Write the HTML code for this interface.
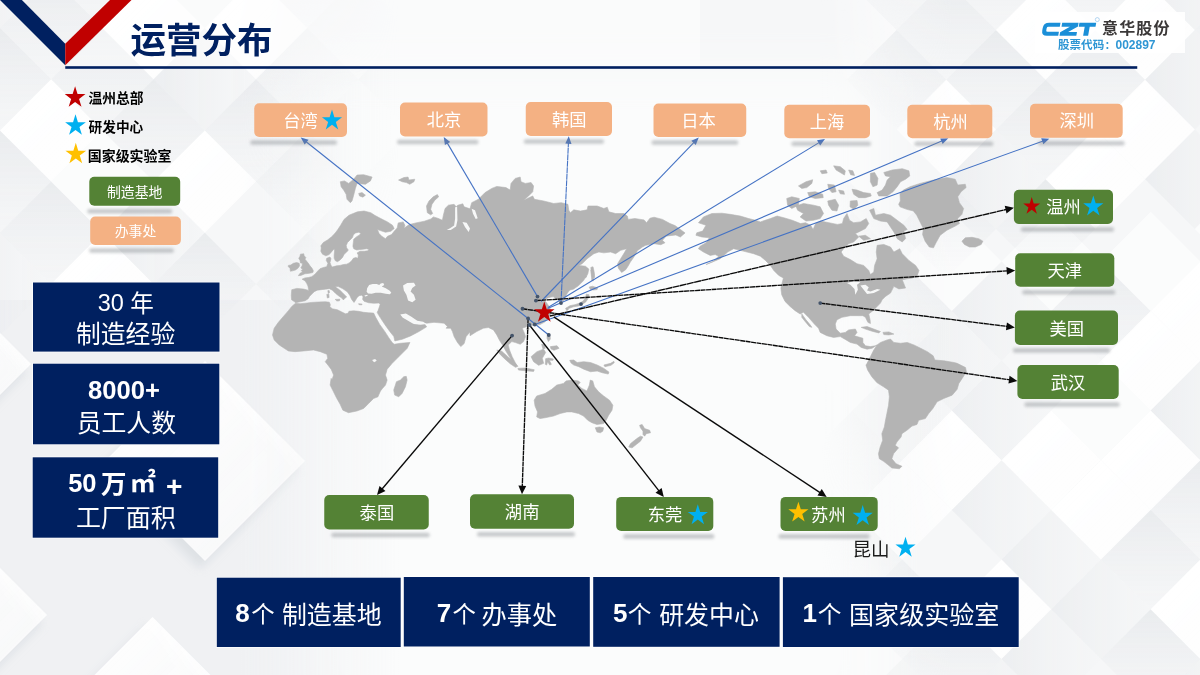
<!DOCTYPE html>
<html lang="zh"><head><meta charset="utf-8"><title>运营分布</title>
<style>
html,body{margin:0;padding:0;background:#fff;}
body{width:1200px;height:675px;overflow:hidden;font-family:"Liberation Sans","Noto Sans CJK SC",sans-serif;}
svg{display:block}
svg text{font-family:"Liberation Sans","Noto Sans CJK SC",sans-serif;}
</style></head><body>
<svg width="1200" height="675" viewBox="0 0 1200 675">
<defs><linearGradient id="gW" x1="0" y1="0" x2="1" y2="1"><stop offset="0" stop-color="#fff" stop-opacity="1"/><stop offset="1" stop-color="#fff" stop-opacity="0.75"/></linearGradient><linearGradient id="gG" x1="0.5" y1="0" x2="0.5" y2="1"><stop offset="0" stop-color="#dde0e4" stop-opacity="0.72"/><stop offset="1" stop-color="#e8eaed" stop-opacity="0.05"/></linearGradient><linearGradient id="gH" x1="0" y1="0" x2="1" y2="0"><stop offset="0" stop-color="#dfe2e6" stop-opacity="0.7"/><stop offset="1" stop-color="#eceef0" stop-opacity="0.05"/></linearGradient><linearGradient id="fadeL" x1="0" y1="0" x2="1" y2="0"><stop offset="0" stop-color="#fff"/><stop offset="0.6" stop-color="#fff"/><stop offset="1" stop-color="#000"/></linearGradient><linearGradient id="fadeR" x1="0" y1="0" x2="1" y2="0"><stop offset="0" stop-color="#000"/><stop offset="0.35" stop-color="#fff"/><stop offset="1" stop-color="#fff"/></linearGradient><mask id="mL"><rect x="0" y="0" width="400" height="675" fill="url(#fadeL)"/></mask><mask id="mR"><rect x="820" y="0" width="380" height="675" fill="url(#fadeR)"/></mask><filter id="sh" x="-20%" y="-80%" width="140%" height="260%"><feGaussianBlur stdDeviation="1.7"/></filter><filter id="b30" x="-20%" y="-20%" width="140%" height="140%"><feGaussianBlur stdDeviation="25"/></filter><filter id="b3" x="-20%" y="-20%" width="140%" height="140%"><feGaussianBlur stdDeviation="5"/></filter></defs>
<rect width="1200" height="675" fill="#f6f7f8"/>
<rect x="300" y="70" width="580" height="650" fill="#fbfcfc" filter="url(#b30)"/>
<g mask="url(#mL)">
<rect x="0" y="300" width="400" height="375" fill="#eef0f2" opacity="0.85"/>
<polygon points="-51.2,-125.6 0,-74.4 -51.2,-23.2 -102.4,-74.4" fill="url(#gG)" opacity="0.7"/>
<polygon points="-51.2,-23.2 0,28 -51.2,79.2 -102.4,28" fill="url(#gG)" opacity="0.7"/>
<polygon points="-51.2,79.2 0,130.4 -51.2,181.6 -102.4,130.4" fill="url(#gH)" opacity="0.6"/>
<polygon points="-51.2,181.6 0,232.8 -51.2,284 -102.4,232.8" fill="url(#gG)" opacity="0.7"/>
<polygon points="0,-74.4 51.2,-23.2 0,28 -51.2,-23.2" fill="url(#gH)" opacity="0.6"/>
<polygon points="0,28 51.2,79.2 0,130.4 -51.2,79.2" fill="url(#gG)" opacity="0.7"/>
<polygon points="0,130.4 51.2,181.6 0,232.8 -51.2,181.6" fill="url(#gG)" opacity="0.7"/>
<polygon points="0,232.8 51.2,284 0,335.2 -51.2,284" fill="url(#gH)" opacity="0.6"/>
<polygon points="51.2,-125.6 102.4,-74.4 51.2,-23.2 0,-74.4" fill="url(#gG)" opacity="0.7"/>
<polygon points="51.2,-23.2 102.4,28 51.2,79.2 0,28" fill="url(#gG)" opacity="0.7"/>
<polygon points="51.2,79.2 102.4,130.4 51.2,181.6 0,130.4" fill="url(#gW)" opacity="1"/>
<polygon points="51.2,181.6 102.4,232.8 51.2,284 0,232.8" fill="url(#gG)" opacity="0.7"/>
<polygon points="102.4,-74.4 153.6,-23.2 102.4,28 51.2,-23.2" fill="url(#gG)" opacity="0.7"/>
<polygon points="102.4,28 153.6,79.2 102.4,130.4 51.2,79.2" fill="url(#gG)" opacity="0.7"/>
<polygon points="102.4,130.4 153.6,181.6 102.4,232.8 51.2,181.6" fill="#ffffff" opacity="0.6"/>
<polygon points="102.4,232.8 153.6,284 102.4,335.2 51.2,284" fill="url(#gW)" opacity="1"/>
<polygon points="153.6,-125.6 204.8,-74.4 153.6,-23.2 102.4,-74.4" fill="url(#gG)" opacity="0.7"/>
<polygon points="153.6,-23.2 204.8,28 153.6,79.2 102.4,28" fill="url(#gW)" opacity="1"/>
<polygon points="153.6,79.2 204.8,130.4 153.6,181.6 102.4,130.4" fill="url(#gG)" opacity="0.7"/>
<polygon points="153.6,181.6 204.8,232.8 153.6,284 102.4,232.8" fill="url(#gH)" opacity="0.6"/>
<polygon points="204.8,28 256,79.2 204.8,130.4 153.6,79.2" fill="url(#gH)" opacity="0.6"/>
<polygon points="204.8,130.4 256,181.6 204.8,232.8 153.6,181.6" fill="url(#gW)" opacity="1"/>
<polygon points="204.8,232.8 256,284 204.8,335.2 153.6,284" fill="url(#gG)" opacity="0.7"/>
<polygon points="256,-23.2 307.2,28 256,79.2 204.8,28" fill="url(#gW)" opacity="1"/>
<polygon points="256,79.2 307.2,130.4 256,181.6 204.8,130.4" fill="url(#gG)" opacity="0.7"/>
<polygon points="307.2,-74.4 358.4,-23.2 307.2,28 256,-23.2" fill="url(#gG)" opacity="0.7"/>
<polygon points="307.2,28 358.4,79.2 307.2,130.4 256,79.2" fill="url(#gG)" opacity="0.7"/>
<polygon points="307.2,130.4 358.4,181.6 307.2,232.8 256,181.6" fill="url(#gG)" opacity="0.7"/>
<polygon points="307.2,232.8 358.4,284 307.2,335.2 256,284" fill="url(#gG)" opacity="0.7"/>
<polygon points="358.4,-125.6 409.6,-74.4 358.4,-23.2 307.2,-74.4" fill="#ffffff" opacity="0.6"/>
<polygon points="358.4,-23.2 409.6,28 358.4,79.2 307.2,28" fill="url(#gG)" opacity="0.7"/>
<polygon points="358.4,79.2 409.6,130.4 358.4,181.6 307.2,130.4" fill="url(#gH)" opacity="0.6"/>
<polygon points="358.4,181.6 409.6,232.8 358.4,284 307.2,232.8" fill="url(#gH)" opacity="0.6"/>
<polygon points="409.6,-74.4 460.8,-23.2 409.6,28 358.4,-23.2" fill="url(#gG)" opacity="0.7"/>
<polygon points="409.6,28 460.8,79.2 409.6,130.4 358.4,79.2" fill="url(#gH)" opacity="0.6"/>
<polygon points="409.6,130.4 460.8,181.6 409.6,232.8 358.4,181.6" fill="url(#gG)" opacity="0.7"/>
<polygon points="409.6,232.8 460.8,284 409.6,335.2 358.4,284" fill="url(#gG)" opacity="0.7"/>
<polygon points="460.8,-125.6 512,-74.4 460.8,-23.2 409.6,-74.4" fill="url(#gG)" opacity="0.7"/>
<polygon points="460.8,-23.2 512,28 460.8,79.2 409.6,28" fill="url(#gH)" opacity="0.6"/>
<polygon points="460.8,79.2 512,130.4 460.8,181.6 409.6,130.4" fill="url(#gG)" opacity="0.7"/>
<polygon points="460.8,181.6 512,232.8 460.8,284 409.6,232.8" fill="url(#gG)" opacity="0.7"/>
<polygon points="200,369 300,469 200,569 100,469" fill="#cfd4d9" opacity="0.55" filter="url(#b3)"/>
<polygon points="147.5,625 247.5,725 147.5,825 47.5,725" fill="#cfd4d9" opacity="0.55" filter="url(#b3)"/>
<polygon points="-58,523 42,623 -58,723 -158,623" fill="#cfd4d9" opacity="0.55" filter="url(#b3)"/>
<polygon points="-74,272 26,372 -74,472 -174,372" fill="#cfd4d9" opacity="0.55" filter="url(#b3)"/>
<polygon points="-69,264 31,364 -69,464 -169,364" fill="url(#gW)" opacity="1"/>
<polygon points="205,361 305,461 205,561 105,461" fill="url(#gW)" opacity="1"/>
<polygon points="152.5,617 252.5,717 152.5,817 52.5,717" fill="url(#gW)" opacity="1"/>
<polygon points="-53,515 47,615 -53,715 -153,615" fill="url(#gW)" opacity="1"/>
</g>
<g mask="url(#mR)">
<polygon points="753.1,211.7 802.8,261.4 753.1,311.1 703.4,261.4" fill="url(#gH)" opacity="0.6"/>
<polygon points="753.1,311.1 802.8,360.8 753.1,410.5 703.4,360.8" fill="url(#gH)" opacity="0.6"/>
<polygon points="753.1,410.5 802.8,460.2 753.1,509.9 703.4,460.2" fill="url(#gG)" opacity="0.7"/>
<polygon points="753.1,509.9 802.8,559.6 753.1,609.3 703.4,559.6" fill="#ffffff" opacity="0.6"/>
<polygon points="753.1,609.3 802.8,659 753.1,708.7 703.4,659" fill="url(#gH)" opacity="0.6"/>
<polygon points="802.8,261.4 852.5,311.1 802.8,360.8 753.1,311.1" fill="url(#gG)" opacity="0.7"/>
<polygon points="802.8,360.8 852.5,410.5 802.8,460.2 753.1,410.5" fill="url(#gH)" opacity="0.6"/>
<polygon points="802.8,460.2 852.5,509.9 802.8,559.6 753.1,509.9" fill="url(#gH)" opacity="0.6"/>
<polygon points="802.8,659 852.5,708.7 802.8,758.4 753.1,708.7" fill="#ffffff" opacity="0.6"/>
<polygon points="852.5,211.7 902.2,261.4 852.5,311.1 802.8,261.4" fill="url(#gG)" opacity="0.7"/>
<polygon points="852.5,410.5 902.2,460.2 852.5,509.9 802.8,460.2" fill="url(#gG)" opacity="0.7"/>
<polygon points="852.5,509.9 902.2,559.6 852.5,609.3 802.8,559.6" fill="url(#gG)" opacity="0.7"/>
<polygon points="852.5,609.3 902.2,659 852.5,708.7 802.8,659" fill="#ffffff" opacity="0.6"/>
<polygon points="902.2,261.4 951.9,311.1 902.2,360.8 852.5,311.1" fill="url(#gG)" opacity="0.7"/>
<polygon points="902.2,360.8 951.9,410.5 902.2,460.2 852.5,410.5" fill="url(#gH)" opacity="0.6"/>
<polygon points="902.2,460.2 951.9,509.9 902.2,559.6 852.5,509.9" fill="url(#gW)" opacity="1"/>
<polygon points="902.2,559.6 951.9,609.3 902.2,659 852.5,609.3" fill="url(#gG)" opacity="0.7"/>
<polygon points="902.2,659 951.9,708.7 902.2,758.4 852.5,708.7" fill="url(#gH)" opacity="0.6"/>
<polygon points="951.9,211.7 1001.6,261.4 951.9,311.1 902.2,261.4" fill="#ffffff" opacity="0.6"/>
<polygon points="951.9,311.1 1001.6,360.8 951.9,410.5 902.2,360.8" fill="url(#gH)" opacity="0.6"/>
<polygon points="951.9,410.5 1001.6,460.2 951.9,509.9 902.2,460.2" fill="url(#gW)" opacity="1"/>
<polygon points="951.9,609.3 1001.6,659 951.9,708.7 902.2,659" fill="url(#gG)" opacity="0.7"/>
<polygon points="1001.6,261.4 1051.3,311.1 1001.6,360.8 951.9,311.1" fill="url(#gH)" opacity="0.6"/>
<polygon points="1001.6,360.8 1051.3,410.5 1001.6,460.2 951.9,410.5" fill="url(#gH)" opacity="0.6"/>
<polygon points="1001.6,460.2 1051.3,509.9 1001.6,559.6 951.9,509.9" fill="url(#gH)" opacity="0.6"/>
<polygon points="1001.6,559.6 1051.3,609.3 1001.6,659 951.9,609.3" fill="url(#gW)" opacity="1"/>
<polygon points="1001.6,659 1051.3,708.7 1001.6,758.4 951.9,708.7" fill="url(#gH)" opacity="0.6"/>
<polygon points="1051.3,211.7 1101,261.4 1051.3,311.1 1001.6,261.4" fill="#ffffff" opacity="0.6"/>
<polygon points="1051.3,410.5 1101,460.2 1051.3,509.9 1001.6,460.2" fill="url(#gW)" opacity="1"/>
<polygon points="1051.3,509.9 1101,559.6 1051.3,609.3 1001.6,559.6" fill="url(#gH)" opacity="0.6"/>
<polygon points="1051.3,609.3 1101,659 1051.3,708.7 1001.6,659" fill="url(#gH)" opacity="0.6"/>
<polygon points="1101,261.4 1150.7,311.1 1101,360.8 1051.3,311.1" fill="url(#gG)" opacity="0.7"/>
<polygon points="1101,360.8 1150.7,410.5 1101,460.2 1051.3,410.5" fill="#ffffff" opacity="0.6"/>
<polygon points="1101,460.2 1150.7,509.9 1101,559.6 1051.3,509.9" fill="url(#gW)" opacity="1"/>
<polygon points="1101,559.6 1150.7,609.3 1101,659 1051.3,609.3" fill="url(#gH)" opacity="0.6"/>
<polygon points="1150.7,211.7 1200.4,261.4 1150.7,311.1 1101,261.4" fill="#ffffff" opacity="0.6"/>
<polygon points="1150.7,311.1 1200.4,360.8 1150.7,410.5 1101,360.8" fill="url(#gW)" opacity="1"/>
<polygon points="1150.7,410.5 1200.4,460.2 1150.7,509.9 1101,460.2" fill="url(#gW)" opacity="1"/>
<polygon points="1150.7,509.9 1200.4,559.6 1150.7,609.3 1101,559.6" fill="url(#gG)" opacity="0.7"/>
<polygon points="1150.7,609.3 1200.4,659 1150.7,708.7 1101,659" fill="url(#gG)" opacity="0.7"/>
<polygon points="1200.4,261.4 1250.1,311.1 1200.4,360.8 1150.7,311.1" fill="url(#gW)" opacity="1"/>
<polygon points="1200.4,360.8 1250.1,410.5 1200.4,460.2 1150.7,410.5" fill="url(#gH)" opacity="0.6"/>
<polygon points="1200.4,460.2 1250.1,509.9 1200.4,559.6 1150.7,509.9" fill="url(#gG)" opacity="0.7"/>
<polygon points="1200.4,559.6 1250.1,609.3 1200.4,659 1150.7,609.3" fill="url(#gW)" opacity="1"/>
<polygon points="1200.4,659 1250.1,708.7 1200.4,758.4 1150.7,708.7" fill="url(#gH)" opacity="0.6"/>
<polygon points="1250.1,211.7 1299.8,261.4 1250.1,311.1 1200.4,261.4" fill="url(#gG)" opacity="0.7"/>
<polygon points="1250.1,311.1 1299.8,360.8 1250.1,410.5 1200.4,360.8" fill="url(#gG)" opacity="0.7"/>
<polygon points="1250.1,410.5 1299.8,460.2 1250.1,509.9 1200.4,460.2" fill="url(#gG)" opacity="0.7"/>
<polygon points="1250.1,509.9 1299.8,559.6 1250.1,609.3 1200.4,559.6" fill="#ffffff" opacity="0.6"/>
<polygon points="1250.1,609.3 1299.8,659 1250.1,708.7 1200.4,659" fill="url(#gG)" opacity="0.7"/>
<polygon points="747.5,-119 797.2,-69.3 747.5,-19.6 697.8,-69.3" fill="url(#gG)" opacity="0.7"/>
<polygon points="747.5,-19.6 797.2,30.1 747.5,79.8 697.8,30.1" fill="url(#gG)" opacity="0.7"/>
<polygon points="747.5,179.2 797.2,228.9 747.5,278.6 697.8,228.9" fill="url(#gG)" opacity="0.7"/>
<polygon points="797.2,-69.3 846.9,-19.6 797.2,30.1 747.5,-19.6" fill="url(#gG)" opacity="0.7"/>
<polygon points="797.2,30.1 846.9,79.8 797.2,129.5 747.5,79.8" fill="url(#gH)" opacity="0.6"/>
<polygon points="846.9,-119 896.6,-69.3 846.9,-19.6 797.2,-69.3" fill="#ffffff" opacity="0.6"/>
<polygon points="846.9,-19.6 896.6,30.1 846.9,79.8 797.2,30.1" fill="url(#gW)" opacity="1"/>
<polygon points="846.9,179.2 896.6,228.9 846.9,278.6 797.2,228.9" fill="url(#gG)" opacity="0.7"/>
<polygon points="896.6,-69.3 946.3,-19.6 896.6,30.1 846.9,-19.6" fill="url(#gG)" opacity="0.7"/>
<polygon points="896.6,30.1 946.3,79.8 896.6,129.5 846.9,79.8" fill="url(#gG)" opacity="0.7"/>
<polygon points="946.3,-19.6 996,30.1 946.3,79.8 896.6,30.1" fill="url(#gG)" opacity="0.7"/>
<polygon points="946.3,79.8 996,129.5 946.3,179.2 896.6,129.5" fill="url(#gW)" opacity="1"/>
<polygon points="946.3,179.2 996,228.9 946.3,278.6 896.6,228.9" fill="url(#gG)" opacity="0.7"/>
<polygon points="996,-69.3 1045.7,-19.6 996,30.1 946.3,-19.6" fill="url(#gG)" opacity="0.7"/>
<polygon points="996,30.1 1045.7,79.8 996,129.5 946.3,79.8" fill="url(#gG)" opacity="0.7"/>
<polygon points="996,129.5 1045.7,179.2 996,228.9 946.3,179.2" fill="url(#gH)" opacity="0.6"/>
<polygon points="1045.7,-119 1095.4,-69.3 1045.7,-19.6 996,-69.3" fill="url(#gH)" opacity="0.6"/>
<polygon points="1045.7,-19.6 1095.4,30.1 1045.7,79.8 996,30.1" fill="url(#gW)" opacity="1"/>
<polygon points="1045.7,79.8 1095.4,129.5 1045.7,179.2 996,129.5" fill="url(#gG)" opacity="0.7"/>
<polygon points="1045.7,179.2 1095.4,228.9 1045.7,278.6 996,228.9" fill="url(#gG)" opacity="0.7"/>
<polygon points="1095.4,-69.3 1145.1,-19.6 1095.4,30.1 1045.7,-19.6" fill="url(#gG)" opacity="0.7"/>
<polygon points="1095.4,30.1 1145.1,79.8 1095.4,129.5 1045.7,79.8" fill="url(#gG)" opacity="0.7"/>
<polygon points="1095.4,129.5 1145.1,179.2 1095.4,228.9 1045.7,179.2" fill="url(#gW)" opacity="1"/>
<polygon points="1145.1,-119 1194.8,-69.3 1145.1,-19.6 1095.4,-69.3" fill="url(#gH)" opacity="0.6"/>
<polygon points="1145.1,-19.6 1194.8,30.1 1145.1,79.8 1095.4,30.1" fill="url(#gW)" opacity="1"/>
<polygon points="1145.1,79.8 1194.8,129.5 1145.1,179.2 1095.4,129.5" fill="url(#gW)" opacity="1"/>
<polygon points="1194.8,-69.3 1244.5,-19.6 1194.8,30.1 1145.1,-19.6" fill="url(#gH)" opacity="0.6"/>
<polygon points="1194.8,30.1 1244.5,79.8 1194.8,129.5 1145.1,79.8" fill="url(#gH)" opacity="0.6"/>
<polygon points="1194.8,129.5 1244.5,179.2 1194.8,228.9 1145.1,179.2" fill="url(#gH)" opacity="0.6"/>
<polygon points="1244.5,-119 1294.2,-69.3 1244.5,-19.6 1194.8,-69.3" fill="url(#gH)" opacity="0.6"/>
<polygon points="1244.5,-19.6 1294.2,30.1 1244.5,79.8 1194.8,30.1" fill="url(#gG)" opacity="0.7"/>
<polygon points="1244.5,179.2 1294.2,228.9 1244.5,278.6 1194.8,228.9" fill="#ffffff" opacity="0.6"/>
</g>
<polygon points="131.5,0 700,0 700,66 66,66" fill="#ffffff" opacity="0.45"/>
<polygon points="0,0 21.9,0 65.25,43.75 65.25,65.25" fill="#002060"/>
<polygon points="65.25,43.75 110,0 131.5,0 65.25,65.25" fill="#C00000"/>
<rect x="65.25" y="66.2" width="1072" height="2.6" fill="#002060"/>
<text x="130.45" y="53.25" font-size="35.5" font-weight="bold" fill="#002060">运营分布</text>
<g id="map"><path d="M291.76,289.72 L296.78,288.38 L303.47,289.05 L308.83,290.38 L308.83,290.42 L307.92,286 L306.67,283.33 L305,280.83 L302.08,279.17 L305,277.92 L308.33,277.5 L311.67,276.67 L315,274.17 L317.5,271.25 L320,268.75 L323.33,267.5 L326.67,266.67 L327.92,263.33 L326.25,260.42 L326.67,258.33 L330,257.08 L331,258.75 L330,262.5 L330.83,265 L332.08,267.08 L336.67,265.83 L340,265.42 L343.33,264.58 L346.67,264.17 L349.17,262.92 L351.67,260.83 L353.33,258.33 L355.83,257.5 L357.92,258.33 L358.33,255 L357.08,252.92 L360,251.25 L364.17,251.25 L367.5,250.83 L369.17,249.58 L366.67,248.75 L363.33,249.17 L360,249.58 L356.67,250 L353.75,248.75 L352.92,246.25 L353.33,242.5 L353.75,239.17 L356.67,236.67 L359.58,235 L360.83,233.33 L358.75,232.33 L355.42,232.92 L353.33,235 L352.5,237.5 L350,240 L347.5,242.5 L346.25,245.42 L346.67,247.92 L348.33,250 L346.67,252.08 L344.17,254.17 L342.5,257.5 L340,260 L337.5,261.67 L335.42,260.83 L334.17,258.33 L334.17,255 L334.58,250.83 L334.17,248.75 L331.67,251.67 L329.17,254.58 L325.83,255.83 L322.5,254.17 L320.83,251.25 L321.25,247.92 L320.83,245.83 L323.33,242.5 L327.5,240 L331.67,236.67 L335,233.33 L337.5,230 L340.63,225.25 L343.97,219.56 L349,215.21 L357.36,211.86 L364.06,211.03 L370.75,212.7 L375.1,215.54 L380.79,218.56 L387.49,221.9 L392.51,225.25 L394.18,228.6 L390.84,231.28 L385.48,232.28 L380.46,230.61 L377.45,229.6 L379.12,233.62 L381.8,236.3 L385.48,238.64 L387.49,236.3 L391.51,234.62 L394.18,231.28 L397.2,227.93 L398.2,222.91 L403.22,221.9 L404.9,225.25 L403.89,228.26 L409.25,224.58 L415.94,222.91 L424.31,221.23 L431,218.89 L433.35,216.88 L437.7,218.22 L442.38,220.23 L443.39,215.21 L445.06,208.51 L448.41,205.17 L454.1,204.33 L456.11,206.84 L457.78,205.17 L462.8,203.83 L464.14,206.84 L470,208.85 L471.67,202.66 L478.37,199.31 L485.06,192.62 L491.76,188.43 L496.78,186.42 L505.98,187.59 L510.17,190.1 L511,183.41 L515.19,178.39 L520.21,177.05 L521.05,181.74 L525.23,183.41 L531.09,182.57 L533.6,185.92 L532.76,191.78 L528.58,195.96 L523.56,200.15 L532.76,195.96 L534.44,199.31 L543.64,200.98 L553.68,203.49 L561.21,202.66 L567.91,204.33 L568.74,210.19 L570.42,212.7 L573.77,209.85 L580.46,211.03 L587.15,209.85 L587.99,206 L597.2,206 L603.89,208.51 L607.24,207.18 L608.91,211.86 L615.61,213.54 L623.97,213.54 L627.32,216.05 L628.16,219.39 L634.85,218.56 L644.06,219.9 L646.57,222.74 L649.92,218.22 L654.1,217.22 L662.47,219.39 L670,223.58 L675.02,225.59 L680.38,229.44 L685.06,232.95 L680.38,236.97 L675.86,234.96 L670,235.63 L666.15,236.13 L662.47,240.31 L664.98,242.82 L660.79,244.67 L654.1,243.66 L645.73,245.33 L642.38,247.01 L637.36,250.69 L635.69,254.04 L633.18,258.05 L630.33,262.07 L628.33,265.75 L625.65,269.77 L621.63,272.45 L618.28,268.1 L617.62,263.74 L620.63,258.72 L624.31,252.87 L626.65,248.68 L620.63,250.36 L615.61,253.7 L610.59,252.03 L603.89,252.87 L598.87,252.03 L593.85,253.7 L587.15,258.72 L582.13,263.74 L578.79,265.42 L585.48,266.26 L588.83,269.1 L587.82,273.79 L585.48,277.97 L586.67,275.83 L583.33,280.83 L578.33,285.83 L573.33,289.17 L570,290 L568.33,291.83 L566.67,294.33 L565,297.67 L563.33,301 L561,303.17 L559.17,302.08 L557.67,299.33 L555,298.33 L553.75,296.83 L552.08,296.83 L548.33,297.67 L545,299.17 L542.5,298.75 L540,299.17 L537.92,301 L541.67,301.25 L545,301 L546.67,302.92 L549.17,306.67 L551.25,310.83 L550.42,315 L547.92,319.17 L544.58,322.08 L540,324.58 L534.6,325.2 L528.91,325.87 L526.23,326.87 L522.22,328.21 L523.89,331.89 L525.56,336.58 L523.56,341.6 L520.21,344.28 L515.52,342.6 L511.84,341.6 L508.16,344.95 L509.5,349.97 L512.18,356.66 L515.19,362.52 L517.2,365.87 L514.52,365.36 L511.84,360.34 L508.49,355.32 L505.82,350.97 L502.8,345.28 L499.46,340.26 L496.78,334.9 L493.43,329.88 L488.41,327.54 L483.39,328.21 L476.69,331.56 L470,335.74 L470,331.89 L466.15,336.58 L464.14,343.61 L460.79,346.62 L457.45,342.44 L454.1,336.58 L452.43,331.56 L450.75,328.21 L446.07,328.21 L447.41,326.54 L444.06,323.19 L434.02,322.35 L426.65,323.19 L420.63,322.35 L415.61,321.18 L410.59,317.5 L405.56,314.15 L400.88,314.82 L402.55,317.5 L407.24,319.84 L412.26,323.19 L418.95,324.19 L423.97,323.19 L426.65,326.87 L418.95,331.56 L410.59,335.91 L402.22,339.26 L394.85,340.93 L393.82,336.5 L389.79,331.46 L384.75,324.41 L380.72,318.36 L378.2,314.33 L377.19,312.32 L378.2,310.3 L379.21,307.28 L380.21,304.26 L378.7,303.05 L373.66,303.25 L368.63,302.75 L364.09,301.23 L362.58,299.22 L363.09,296.7 L361.57,295.19 L359.06,295.69 L357.04,297.71 L355.53,300.23 L354.02,302.44 L351.5,299.22 L349.99,295.69 L347.47,291.96 L342.93,288.84 L338.4,286.62 L335.38,286.42 L336.39,287.63 L339.41,289.65 L342.43,292.67 L345.45,295.69 L346.66,297 L344.95,298.21 L343.44,299.92 L341.42,297.71 L338.4,295.69 L335.38,293.17 L332.36,290.15 L329.33,288.64 L325.3,289.14 L321.27,289.65 L317.24,290.15 L314.22,291.66 L312.2,293.68 L309.69,296.2 L308.17,298.72 L305.15,300.73 L300.11,301.74 L295.58,302.75 L294.57,301.74 L291.55,299.72 L291.25,295.19Z M295.58,303.25 L300.11,303.75 L305.15,303.25 L311.2,302.44 L318.25,302.04 L325.3,301.74 L329.33,302.24 L330.34,304.76 L329.84,306.78 L332.36,308.79 L337.39,309.8 L341.42,311.81 L345.45,313.83 L347.97,313.32 L348.98,311.31 L353.51,310.81 L358.55,311.31 L363.59,312.32 L368.63,312.82 L373.66,313.12 L375.68,317.36 L379.71,324.41 L384.75,331.46 L388.78,337.71 L392.18,342.6 L394.18,344.28 L400.54,343.27 L409.92,342.44 L407.24,348.29 L402.22,353.31 L397.2,358.33 L392.18,363.36 L387.15,369.21 L385.48,375.07 L387.15,380.09 L385.48,385.11 L382.47,388.46 L380.5,390.92 L378.66,395.1 L377.99,396.78 L373.64,398.45 L368.62,403.47 L363.6,408.49 L356.9,411 L348.54,412.68 L342.85,410.17 L340.17,404.31 L336.82,398.45 L333.47,391.76 L330.13,385.06 L331.13,378.37 L331.92,380.09 L333.6,375.07 L331.26,369.38 L327.91,365.03 L325.23,361.68 L327.74,358.33 L326.9,354.32 L320.21,351.64 L313.51,349.97 L303.47,350.97 L295.1,351.64 L288.41,350.97 L284.23,348.29 L279.21,344.95 L274.18,339.92 L272.51,334.9 L274.18,328.21 L278.37,322.35 L283.39,316.49 L288.41,310.64 L291.76,306.45Z M406.28,376.36 L407.11,380.04 L405.44,386.74 L402.09,393.43 L398.74,396.78 L394.73,395.1 L393.72,390.08 L395.4,385.06 L396.4,381.72 L400.42,380.04 L403.77,376.69Z M300.42,254.17 L303.75,253.75 L304.17,255.83 L305.83,257.5 L305,259.17 L306.67,261.25 L308.33,263.33 L310,265.83 L312.08,268.33 L313.33,270.83 L312.92,272.5 L309.17,273.33 L305,273.75 L300.83,275.42 L298.33,275.67 L300,273.33 L302.5,272.08 L301.25,270.42 L302.92,269.17 L300.83,267.92 L302.08,265.83 L302.5,263.33 L300.42,262.92 L300,260.42 L298.75,258.33 L300,256.25Z M288.33,265.42 L290.83,265 L293.33,263.33 L296.67,262.5 L299.17,263.33 L299.58,265.83 L297.92,268.33 L295.42,270 L292.5,270.83 L290.42,271.25 L290,268.33 L288.33,266.67Z M340.29,181.74 L344.48,180.9 L348.66,183.41 L353.68,179.23 L357.03,175.04 L363.72,174.71 L372.09,177.05 L370.42,180.9 L365.4,184.25 L357.03,183.41 L355.36,188.43 L353.68,195.13 L352.01,200.98 L350.33,202.66 L346.99,199.31 L346.15,194.29 L343.64,190.1 L341.13,186.76Z M358.7,193.45 L362.05,192.62 L365.4,195.13 L362.89,197.13 L359.54,195.96Z M398.54,180.06 L403.89,177.55 L408.08,177.05 L408.91,180.06 L414.77,179.23 L413.93,181.74 L409.75,184.25 L406.4,182.57 L402.22,181.74Z M426.49,206 L429,200.98 L433.18,196.8 L437.36,194.62 L438.7,196.8 L434.85,200.15 L432.01,204.33 L430.67,209.35 L432.68,213.54 L430.67,214.87 L427.32,212.7Z M327.82,290.65 L329.13,290.45 L329.53,292.67 L328.32,293.38Z M326.81,294.38 L328.73,293.98 L329.13,297.41 L327.32,298.01Z M335.18,299.42 L339.91,299.22 L339.41,300.83 L336.89,301.03Z M358.55,303.75 L362.08,304.06 L361.78,304.86 L359.06,304.66Z M590.84,267.43 L593.01,266.76 L594.18,272.11 L594.69,277.47 L592.18,277.47 L591.34,272.95Z M590.83,270 L593.17,270 L594,275 L593.33,280.83 L591.83,280.67 L591.33,275Z M589.17,287.08 L592.5,286.25 L597.5,287.92 L597.08,289.58 L593.33,290 L590.42,289.58Z M586.25,294.17 L589.17,294.83 L588.17,298.33 L586,301.67 L582.67,304.17 L578.33,306 L573.33,306.83 L570,308 L566.83,309.33 L565.83,308.17 L570,305.67 L575,304.67 L580,303 L583.33,300.83 L585.67,297.67Z M565.67,308.5 L567.67,308 L568.33,309.83 L566.67,310.5Z M547.32,333.23 L550,334.07 L550.33,339.09 L548.33,341.6 L546.99,338.25Z M526.57,328.21 L528.91,327.87 L528.91,329.88 L526.9,330.22Z M550.33,346.62 L557.03,345.78 L559.04,348.29 L554.02,350.3 L551,348.96Z M541.63,344.28 L544.64,344.61 L545.31,348.29 L542.97,348.96Z M496.78,349.97 L501.8,351.31 L507.82,356.66 L513.85,361.68 L517.87,366.37 L515.52,367.37 L510.17,363.69 L504.48,358.67 L499.46,353.65Z M517.87,368.38 L525.23,368.04 L534.27,369.72 L533.6,371.39 L525.23,370.72 L518.54,370.05Z M531.09,356.66 L536.95,351.64 L543.64,349.13 L545.65,352.48 L542.3,358.33 L543.64,363.36 L538.62,365.36 L533.6,361.68Z M545.65,358.67 L548.66,358 L553.35,359 L553.01,360.34 L549.33,360.34 L551.34,364.36 L549.67,365.03 L547.66,361.68 L546.65,365.03 L545.31,364.36Z M569.75,360.34 L573.77,360.01 L577.11,362.52 L583.81,361.68 L590.5,362.52 L597.2,365.03 L603.89,368.38 L608.91,372.06 L608.24,374.07 L602.22,372.73 L597.2,371.05 L590.5,371.72 L583.81,369.21 L578.79,366.7 L573.77,365.03 L571.09,363.02Z M603.89,365.03 L610.59,363.36 L613.93,361.35 L614.27,362.69 L610.92,365.36 L604.9,366.7Z M534.18,400.17 L536.69,395.98 L545.06,393.47 L551.76,389.29 L556.78,385.1 L563.47,383.43 L565.98,380.92 L571.84,380.08 L578.54,380.92 L580.21,382.59 L577.7,385.1 L581.88,388.45 L586.9,390.96 L589.41,385.1 L590.25,380.08 L592.76,380.92 L594.44,386.78 L598.62,391.8 L603.64,395.98 L609.5,400.17 L612.85,405.19 L612.01,410.21 L608.66,415.23 L606.15,420.25 L603.64,423.6 L596.95,424.44 L591.92,422.76 L587.74,420.25 L583.56,416.07 L578.54,413.56 L571.84,411.88 L566.82,411.88 L560.13,413.56 L553.43,416.07 L545.06,417.74 L540.04,418.58 L536.69,416.9 L537.53,411.88 L535.02,406.03Z M595.27,427.78 L599.46,426.95 L603.64,427.78 L602.8,431.13 L600.29,432.8 L596.95,431.97Z M639.62,425.27 L642.13,424.44 L644.64,428.62 L649.67,430.29 L650.5,432.8 L646.32,433.64 L644.64,436.15 L642.97,434.48 L642.97,431.13 L640.46,427.78Z M640.46,436.15 L642.97,436.99 L640.46,441.17 L636.28,444.52 L632.09,447.87 L628.74,447.03 L630.42,443.68 L634.6,440.33 L637.95,437.82Z M698.45,222.74 L703.47,216.88 L711.84,213.54 L721.88,213.2 L730.25,214.37 L740.29,216.05 L748.66,218.56 L755.36,220.23 L760.38,221.9 L770.42,218.56 L777.11,216.05 L783.81,217.72 L792.18,220.23 L800.54,223.58 L805.56,222.74 L810.59,225.25 L813.1,229.44 L815.61,223.58 L820.63,221.07 L829,222.74 L837.36,224.41 L842.38,223.58 L843.64,218.56 L846.99,213.54 L849.5,220.23 L853.68,222.74 L860.38,221.9 L866.23,218.56 L868.74,223.58 L865.4,228.6 L858.7,231.95 L855.36,233.62 L858.7,236.97 L853.68,241.99 L848.66,243.66 L843.64,248.68 L841.13,252.03 L843.64,256.21 L850.33,259.56 L857.03,263.74 L863.72,265.42 L868.74,270.44 L870.42,274.62 L873.77,272.11 L874.6,265.42 L877.11,258.72 L876.28,252.03 L877.11,245.33 L883.81,244.5 L890.5,247.01 L893.85,252.03 L899.71,248.68 L902.22,253.7 L908.91,260.4 L915.61,265.42 L918.95,270.44 L917.28,275.46 L912.26,277.97 L902.22,279.67 L905.56,288.04 L898.87,288.88 L893.85,286.37 L890.5,293.06 L885.48,296.41 L882.13,299.76 L880.46,303.1 L877.11,306.45 L872.93,310.64 L868.74,313.98 L870.08,319.84 L870.42,323.52 L867.91,322.35 L865.4,317.33 L862.89,315.66 L857.03,315.66 L850.33,315.66 L841.97,317.33 L836.95,319.84 L835.27,324.03 L836.11,329.05 L840.29,333.23 L845.31,332.39 L848.66,329.88 L855.36,329.05 L857.03,332.39 L854.52,335.74 L857.03,336.58 L862.89,338.25 L862.89,342.44 L865.4,345.78 L870.42,346.62 L875.44,345.78 L877.11,344.95 L872.09,348.29 L867.07,349.13 L861.21,347.46 L857.03,344.11 L850.33,342.44 L846.15,339.92 L840.29,336.58 L833.6,337.41 L826.9,335.74 L820.21,332.39 L818.54,328.21 L814.35,324.03 L808.49,317.33 L803.47,312.31 L800.13,313.98 L795.1,310.64 L790.08,306.45 L785.06,301.43 L781.72,294.74 L780.88,288.04 L783.39,278 L778.79,275.46 L773.77,270.44 L770.42,265.42 L765.4,260.4 L760.38,256.21 L753.68,253.7 L746.99,252.03 L740.29,250.36 L733.6,248.68 L727.74,252.03 L720.21,258.72 L710.17,262.91 L705.98,264.58 L713.51,261.23 L718.54,256.21 L715.19,254.54 L710.17,255.38 L703.47,252.03 L698.45,248.68 L700.13,246.17 L705.98,242.82 L709.33,237.8 L701.8,236.97 L695.94,235.29 L696.78,232.78 L702.64,231.11 L705.98,225.25Z M801.8,313.98 L805.98,319.84 L810.17,324.86 L811.84,327.37 L809.33,326.54 L805.15,321.51 L801.8,317.33Z M861.21,327.37 L867.07,326.54 L873.77,329.05 L880.46,331.56 L878.79,332.9 L872.09,331.22 L865.4,329.05Z M882.97,332.39 L888.83,331.89 L893.85,334.07 L888.83,334.9 L883.81,334.57Z M883.81,172.53 L892.18,170.02 L902.22,168.68 L908.91,170.86 L909.75,175.88 L905.56,179.23 L900.54,181.74 L897.2,186.76 L893.01,191.78 L887.15,195.96 L878.79,195.96 L877.11,192.62 L882.13,190.1 L885.48,185.08 L887.15,180.06 L890.5,176.72 L885.48,175.88Z M870.42,173.37 L874.6,172.53 L877.95,178.39 L877.11,185.08 L872.93,186.76 L870.42,181.74Z M852.01,189.27 L857.03,190.1 L863.72,192.62 L870.42,193.45 L871.26,195.96 L865.4,197.64 L858.7,197.64 L853.68,194.29Z M798.45,185.92 L805.98,181.74 L812.68,179.73 L811.84,183.41 L806.82,187.59 L801.8,188.43Z M820.21,170.86 L826.07,170.02 L827.24,173.03 L821.88,173.7Z M833.6,165.84 L840.29,166.67 L845.31,170.86 L844.48,175.04 L840.29,172.53 L836.11,170.02Z M848.66,170.02 L852.85,170.86 L854.52,175.38 L850.67,174.71Z M827.74,184.25 L834.44,185.08 L836.11,191.78 L831.92,192.62 L828.58,188.43Z M838.62,190.1 L843.64,190.94 L844.48,194.29 L840.29,193.79Z M807.66,192.62 L815.19,191.78 L822.72,194.29 L823.22,197.64 L815.19,198.47 L809.33,196.8Z M786.74,198.47 L791.76,196.8 L799.29,198.47 L798.45,205.17 L791.76,208.51 L787.57,205.17Z M795.94,206 L803.47,203.49 L813.51,205.17 L820.21,206.84 L823.56,213.54 L820.21,218.56 L813.51,220.23 L805.98,221.07 L800.13,216.88 L803.47,213.54 L797.62,210.19Z M827.74,200.98 L835.27,199.31 L838.62,205.17 L836.95,211.03 L831.92,210.19 L828.58,205.17Z M850.33,200.98 L857.03,200.48 L857.87,205.17 L853.68,209.35 L850,206.84Z M869.58,210.19 L873.77,208.51 L875.44,215.21 L883.81,213.54 L890.5,215.21 L897.2,220.23 L903.89,225.25 L907.24,229.44 L903.89,231.11 L905.56,238.64 L902.22,241.99 L897.2,238.64 L893.85,231.95 L890.5,226.92 L887.15,221.9 L880.46,221.07 L873.77,218.56Z M858.7,236.13 L865.4,235.29 L870.42,238.64 L863.72,240.31Z M900,193.45 L903.35,190.1 L910.04,186.76 L920.08,183.41 L933.47,180.06 L946.86,177.55 L955.23,179.23 L957.74,185.08 L965.27,184.25 L966.11,187.59 L961.09,191.78 L957.74,196.8 L959.41,202.66 L963.6,208.51 L961.92,214.37 L957.74,218.56 L959.41,223.58 L955.23,226.09 L946.86,230.27 L940.17,235.29 L935.98,242.82 L933.47,247.85 L929.29,247.01 L925.1,241.15 L922.59,234.46 L923.43,228.6 L920.08,221.9 L916.74,215.21 L913.39,211.03 L906.69,209.35 L900,206.84 L898.66,204.33 L900.33,200.98Z M961.92,241.15 L965.27,237.8 L971.97,237.3 L978.66,238.64 L982.85,241.15 L981.17,244.5 L975.31,247.01 L969.46,247.01 L964.44,244.5Z M877.11,344.95 L880.46,342.44 L887.15,339.92 L890.5,339.09 L893.85,342.44 L900.54,343.27 L907.24,342.44 L913.93,344.95 L920.63,348.29 L927.32,351.64 L933.18,355.82 L934.85,360.01 L944.06,360.85 L954.1,362.52 L957.15,363.35 L965.52,367.53 L966.36,371.72 L962.18,378.41 L958.83,383.43 L957.15,389.29 L952.13,395.15 L943.77,398.49 L937.07,401.84 L932.89,408.54 L928.7,413.56 L925.36,418.58 L918.66,420.25 L916.99,424.44 L911.97,426.11 L906.95,430.29 L901.92,433.64 L901.09,436.99 L896.9,442.01 L895.23,445.36 L898.58,447.87 L893.56,453.72 L891.88,458.74 L896.07,463.77 L901.92,466.28 L899.41,468.79 L891.88,467.95 L887.7,464.6 L883.51,461.26 L879.33,458.74 L878.49,453.72 L880.17,447.03 L882.68,440.33 L881.84,433.64 L884.35,426.95 L885.19,421.92 L886.86,413.56 L888.54,405.19 L889.37,396.82 L888.54,390.13 L883.51,386.78 L876.82,382.59 L871.8,376.74 L867.62,370.04 L865.94,365.02 L867.11,363.35 L867.07,363.36 L870.42,356.66 L873.77,349.97Z" fill="#B4B4B4" stroke="#B4B4B4" stroke-width="0.6" stroke-linejoin="round"/>
<path d="M366.61,291.66 L367.12,288.14 L369.13,285.11 L372.66,284.11 L376.69,284.11 L379.21,285.11 L380.72,283.6 L383.24,283.1 L384.24,285.11 L381.73,286.62 L385.76,288.14 L389.79,290.65 L391.3,292.67 L389.79,294.18 L385.76,293.68 L380.72,292.67 L375.68,292.67 L371.65,293.68 L368.12,293.38Z M364.4,295.39 L367.12,294.79 L367.82,295.79 L365.1,296.6Z M403.05,285.53 L407.24,283.02 L413.93,282.69 L415.61,285.53 L412.26,288.04 L410.59,291.39 L413.93,294.74 L415.61,299.76 L412.26,302.27 L408.08,300.59 L406.4,294.74 L403.89,290.55Z M455.1,207.18 L457.11,206.84 L457.45,220.23 L456.11,226.59 L450.75,229.94 L446.74,229.94 L450.42,227.93 L454.1,225.59 L455.1,218.56Z M462.47,221.9 L466.65,222.74 L470,228.6 L468.66,231.95 L464.98,226.92Z M471.67,208.85 L475.02,210.19 L477.7,218.22 L475.69,218.89 L473.01,213.87Z M846.99,283.02 L853.68,281.35 L860.38,282.18 L857.03,284.69 L857.87,289.72 L855.36,294.74 L854.52,288.88 L850.33,284.69Z M860.38,285.53 L865.4,284.69 L868.74,287.21 L867.07,290.55 L870.42,291.39 L877.11,288.88 L880.46,289.72 L873.77,293.06 L867.07,293.9 L863.72,289.72Z M400.21,314.49 L405.9,313.48 L411.42,316.83 L417.28,320.68 L423.14,321.85 L426.49,324.03 L420.63,324.86 L413.93,324.03 L408.08,320.68 L403.05,317.83Z M372.09,360.01 L375.1,359 L376.78,360.68 L374.1,362.35Z" fill="#f7f8f8"/></g>
<line x1="548.75" y1="335" x2="305.83" y2="141.55" stroke="#4472C4" stroke-width="1.1"/>
<polygon points="300.75,137.5 308.55,139.75 304.69,144.6" fill="#4472C4"/>
<line x1="537.5" y1="296.6" x2="447.04" y2="142.6" stroke="#4472C4" stroke-width="1.1"/>
<polygon points="443.75,137 450.22,141.9 444.88,145.04" fill="#4472C4"/>
<line x1="561" y1="303.1" x2="568.45" y2="142.74" stroke="#4472C4" stroke-width="1.1" stroke-dasharray="6 0.5"/>
<polygon points="568.75,136.25 571.5,143.89 565.31,143.6" fill="#4472C4"/>
<line x1="541" y1="301.5" x2="694.24" y2="142.18" stroke="#4472C4" stroke-width="1.1"/>
<polygon points="698.75,137.5 695.78,145.05 691.32,140.76" fill="#4472C4"/>
<line x1="548" y1="307.5" x2="819.45" y2="142.38" stroke="#4472C4" stroke-width="1.1"/>
<polygon points="825,139 820.2,145.55 816.98,140.25" fill="#4472C4"/>
<line x1="547.5" y1="308.5" x2="942.32" y2="140.84" stroke="#4472C4" stroke-width="1.1"/>
<polygon points="948.3,138.3 942.61,144.08 940.18,138.38" fill="#4472C4"/>
<line x1="534.75" y1="324.5" x2="1043.19" y2="140.91" stroke="#4472C4" stroke-width="1.1"/>
<polygon points="1049.3,138.7 1043.3,144.16 1041.19,138.33" fill="#4472C4"/>
<line x1="535.9" y1="300.6" x2="1007.71" y2="270.87" stroke="#0a0a0a" stroke-width="1.35" stroke-dasharray="5 0.5"/>
<polygon points="1015.2,270.4 1006.96,274.83 1006.47,267.04" fill="#0a0a0a"/>
<line x1="522.5" y1="308.75" x2="1009.98" y2="379.82" stroke="#0a0a0a" stroke-width="1.35" stroke-dasharray="5 0.5"/>
<polygon points="1017.4,380.9 1008.43,383.53 1009.55,375.81" fill="#0a0a0a"/>
<line x1="550" y1="316" x2="1006.6" y2="209.41" stroke="#0a0a0a" stroke-width="1.35" stroke-dasharray="7 0.4"/>
<polygon points="1013.9,207.7 1006.51,213.43 1004.74,205.83" fill="#0a0a0a"/>
<line x1="820.25" y1="303.1" x2="1007.46" y2="326.47" stroke="#0a0a0a" stroke-width="1.35" stroke-dasharray="5 0.5"/>
<polygon points="1014.9,327.4 1005.98,330.22 1006.95,322.48" fill="#0a0a0a"/>
<line x1="553.75" y1="316.9" x2="820.44" y2="492.87" stroke="#0a0a0a" stroke-width="1.35"/>
<polygon points="826.7,497 817.46,495.57 821.75,489.06" fill="#0a0a0a"/>
<line x1="529.4" y1="325" x2="659.18" y2="491.09" stroke="#0a0a0a" stroke-width="1.35"/>
<polygon points="663.8,497 655.49,492.7 661.64,487.9" fill="#0a0a0a"/>
<line x1="528.1" y1="318.5" x2="522.26" y2="486.75" stroke="#0a0a0a" stroke-width="1.35" stroke-dasharray="5 0.5"/>
<polygon points="522,494.25 518.4,485.62 526.19,485.89" fill="#0a0a0a"/>
<line x1="512.1" y1="335.6" x2="381.85" y2="489.28" stroke="#0a0a0a" stroke-width="1.35"/>
<polygon points="377,495 379.52,485.99 385.47,491.04" fill="#0a0a0a"/>
<circle cx="537.5" cy="296.6" r="1.9" fill="#44546A"/>
<circle cx="535.9" cy="300.6" r="1.9" fill="#44546A"/>
<circle cx="561" cy="303.1" r="1.9" fill="#44546A"/>
<circle cx="581" cy="304.1" r="1.9" fill="#44546A"/>
<circle cx="522.5" cy="308.75" r="1.9" fill="#44546A"/>
<circle cx="528.1" cy="318.5" r="1.9" fill="#44546A"/>
<circle cx="529.4" cy="325" r="1.9" fill="#44546A"/>
<circle cx="534.75" cy="324.5" r="1.9" fill="#44546A"/>
<circle cx="548.75" cy="335" r="1.9" fill="#44546A"/>
<circle cx="512.1" cy="335.6" r="1.9" fill="#44546A"/>
<circle cx="820.25" cy="303.1" r="1.9" fill="#44546A"/>
<polygon points="544.3,301.47 546.72,309.23 554.57,309.23 548.22,314.03 550.65,321.79 544.3,316.99 537.95,321.79 540.38,314.03 534.03,309.23 541.88,309.23" fill="#C00000"/>
<rect x="250.25" y="140.2" width="86.75" height="4.6" rx="3" fill="#7f8388" opacity="0.42" filter="url(#sh)"/>
<rect x="254.25" y="103.25" width="92.75" height="33.75" rx="5" ry="5" fill="#F4B183"/>
<text x="283.19" y="127" font-size="17.3" fill="#ffffff">台湾</text>
<polygon points="332,109.58 334.38,117.19 342.08,117.19 335.85,121.9 338.23,129.52 332,124.81 325.77,129.52 328.15,121.9 321.92,117.19 329.62,117.19" fill="#00B0F0"/>
<rect x="397" y="139.7" width="81.5" height="4.6" rx="3" fill="#7f8388" opacity="0.42" filter="url(#sh)"/>
<rect x="400" y="102.5" width="87.5" height="34" rx="5" ry="5" fill="#F4B183"/>
<text x="426.69" y="126.33" font-size="17.3" fill="#ffffff">北京</text>
<rect x="523.75" y="139.2" width="80.25" height="4.6" rx="3" fill="#7f8388" opacity="0.42" filter="url(#sh)"/>
<rect x="525.75" y="102" width="86.25" height="34" rx="5" ry="5" fill="#F4B183"/>
<text x="551.97" y="125.75" font-size="17.3" fill="#ffffff">韩国</text>
<rect x="651.5" y="140.2" width="86.75" height="4.6" rx="3" fill="#7f8388" opacity="0.42" filter="url(#sh)"/>
<rect x="653.5" y="103.5" width="92.75" height="33.5" rx="5" ry="5" fill="#F4B183"/>
<text x="681.33" y="127.02" font-size="17.3" fill="#ffffff">日本</text>
<rect x="791.3" y="141.5" width="79.7" height="4.6" rx="3" fill="#7f8388" opacity="0.42" filter="url(#sh)"/>
<rect x="784.3" y="104.7" width="85.7" height="33.6" rx="5" ry="5" fill="#F4B183"/>
<text x="809.73" y="128.35" font-size="17.3" fill="#ffffff">上海</text>
<rect x="914.3" y="141.5" width="79" height="4.6" rx="3" fill="#7f8388" opacity="0.42" filter="url(#sh)"/>
<rect x="907.3" y="104.7" width="85" height="33.6" rx="5" ry="5" fill="#F4B183"/>
<text x="933.14" y="128.29" font-size="17.3" fill="#ffffff">杭州</text>
<rect x="1038" y="140.9" width="86.7" height="4.6" rx="3" fill="#7f8388" opacity="0.42" filter="url(#sh)"/>
<rect x="1030" y="103.7" width="92.7" height="34" rx="5" ry="5" fill="#F4B183"/>
<text x="1059.45" y="127.41" font-size="17.3" fill="#ffffff">深圳</text>
<rect x="1020.9" y="227.1" width="93.1" height="4.6" rx="3" fill="#7f8388" opacity="0.42" filter="url(#sh)"/>
<rect x="1013.9" y="189.7" width="99.1" height="34.2" rx="5" ry="5" fill="#548235"/>
<text x="1046.3" y="213.49" font-size="17.3" fill="#ffffff">温州</text>
<polygon points="1031.7,197.04 1033.7,203.44 1040.16,203.44 1034.93,207.39 1036.93,213.79 1031.7,209.84 1026.47,213.79 1028.47,207.39 1023.24,203.44 1029.7,203.44" fill="#C00000"/>
<polygon points="1093.3,195.58 1095.68,203.19 1103.38,203.19 1097.15,207.9 1099.53,215.52 1093.3,210.81 1087.07,215.52 1089.45,207.9 1083.22,203.19 1090.92,203.19" fill="#00B0F0"/>
<rect x="1022.2" y="289.9" width="93.1" height="4.6" rx="3" fill="#7f8388" opacity="0.42" filter="url(#sh)"/>
<rect x="1015.2" y="253.2" width="99.1" height="33.5" rx="5" ry="5" fill="#548235"/>
<text x="1047.45" y="276.72" font-size="17.3" fill="#ffffff">天津</text>
<rect x="1012.9" y="348.1" width="97.1" height="4.6" rx="3" fill="#7f8388" opacity="0.42" filter="url(#sh)"/>
<rect x="1014.9" y="310.6" width="103.1" height="34.3" rx="5" ry="5" fill="#548235"/>
<text x="1049.53" y="334.55" font-size="17.3" fill="#ffffff">美国</text>
<rect x="1024.4" y="402.2" width="95.3" height="4.6" rx="3" fill="#7f8388" opacity="0.42" filter="url(#sh)"/>
<rect x="1017.4" y="365" width="101.3" height="34" rx="5" ry="5" fill="#548235"/>
<text x="1050.64" y="388.72" font-size="17.3" fill="#ffffff">武汉</text>
<rect x="331.25" y="532.7" width="98.5" height="4.6" rx="3" fill="#7f8388" opacity="0.42" filter="url(#sh)"/>
<rect x="324.25" y="495" width="104.5" height="34.5" rx="5" ry="5" fill="#548235"/>
<text x="359.61" y="519.01" font-size="17.3" fill="#ffffff">泰国</text>
<rect x="477" y="531.95" width="98" height="4.6" rx="3" fill="#7f8388" opacity="0.42" filter="url(#sh)"/>
<rect x="470" y="494.25" width="104" height="34.5" rx="5" ry="5" fill="#548235"/>
<text x="504.86" y="518.27" font-size="17.3" fill="#ffffff">湖南</text>
<rect x="623.2" y="534.1" width="91.1" height="4.6" rx="3" fill="#7f8388" opacity="0.42" filter="url(#sh)"/>
<rect x="616.2" y="496.9" width="97.1" height="34" rx="5" ry="5" fill="#548235"/>
<text x="647.72" y="520.69" font-size="17.3" fill="#ffffff">东莞</text>
<polygon points="697.8,504.28 700.18,511.89 707.88,511.89 701.65,516.6 704.03,524.22 697.8,519.51 691.57,524.22 693.95,516.6 687.72,511.89 695.42,511.89" fill="#00B0F0"/>
<rect x="778.5" y="534.1" width="91.2" height="4.6" rx="3" fill="#7f8388" opacity="0.42" filter="url(#sh)"/>
<rect x="780.5" y="496.9" width="97.2" height="34" rx="5" ry="5" fill="#548235"/>
<text x="811.1" y="520.67" font-size="17.3" fill="#ffffff">苏州</text>
<polygon points="798.4,501.68 800.78,509.29 808.48,509.29 802.25,514 804.63,521.62 798.4,516.91 792.17,521.62 794.55,514 788.32,509.29 796.02,509.29" fill="#FFC000"/>
<polygon points="862.7,505.08 865.08,512.69 872.78,512.69 866.55,517.4 868.93,525.02 862.7,520.31 856.47,525.02 858.85,517.4 852.62,512.69 860.32,512.69" fill="#00B0F0"/>
<text x="852.46" y="555.59" font-size="18.56" fill="#1a1a1a">昆山</text>
<polygon points="905.5,536.78 907.88,544.39 915.58,544.39 909.35,549.1 911.73,556.72 905.5,552.01 899.27,556.72 901.65,549.1 895.42,544.39 903.12,544.39" fill="#00B0F0"/>
<polygon points="75.1,86.26 77.55,94.1 85.47,94.1 79.06,98.94 81.51,106.77 75.1,101.93 68.69,106.77 71.14,98.94 64.73,94.1 72.65,94.1" fill="#C00000"/>
<polygon points="75.5,114.36 77.95,122.2 85.87,122.2 79.46,127.04 81.91,134.87 75.5,130.03 69.09,134.87 71.54,127.04 65.13,122.2 73.05,122.2" fill="#00B0F0"/>
<polygon points="75.8,142.86 78.25,150.7 86.17,150.7 79.76,155.54 82.21,163.37 75.8,158.53 69.39,163.37 71.84,155.54 65.43,150.7 73.35,150.7" fill="#FFC000"/>
<text x="88.41" y="102.64" font-size="13.75" font-weight="bold" fill="#000">温州总部</text>
<text x="88.5" y="131.9" font-size="13.7" font-weight="bold" fill="#000">研发中心</text>
<text x="87.74" y="160.53" font-size="13.96" font-weight="bold" fill="#000">国家级实验室</text>
<rect x="87.3" y="208.9" width="84.9" height="4.6" rx="3" fill="#7f8388" opacity="0.42" filter="url(#sh)"/>
<rect x="89.3" y="176.7" width="90.9" height="29" rx="5" ry="5" fill="#548235"/>
<text x="106.9" y="196.69" font-size="13.9" fill="#ffffff">制造基地</text>
<rect x="89.2" y="248.2" width="84.7" height="4.6" rx="3" fill="#7f8388" opacity="0.42" filter="url(#sh)"/>
<rect x="90.2" y="216.5" width="90.7" height="28.5" rx="5" ry="5" fill="#F4B183"/>
<text x="114.66" y="236.21" font-size="13.9" fill="#ffffff">办事处</text>
<rect x="32.2" y="281.7" width="188.1" height="70.7" fill="#ffffff" opacity="0.8"/>
<rect x="33" y="282.5" width="186.5" height="69.1" fill="#002060"/>
<rect x="32.2" y="362.9" width="187.9" height="82.2" fill="#ffffff" opacity="0.8"/>
<rect x="33" y="363.7" width="186.3" height="80.6" fill="#002060"/>
<rect x="31.9" y="456.5" width="187.1" height="82" fill="#ffffff" opacity="0.8"/>
<rect x="32.7" y="457.3" width="185.5" height="80.4" fill="#002060"/>
<text x="97.82" y="311.3" font-size="23.48" fill="#ffffff">30</text>
<text x="130.34" y="312.4" font-size="23.59" fill="#ffffff">年</text>
<text x="75.98" y="342.77" font-size="24.82" fill="#ffffff">制造经验</text>
<text x="87.96" y="398.51" font-size="25.6" font-weight="bold" fill="#ffffff">8000+</text>
<text x="76.71" y="432.15" font-size="24.83" fill="#ffffff">员工人数</text>
<rect x="216" y="576.9" width="185.5" height="70.9" fill="#ffffff" opacity="0.8"/>
<rect x="216.8" y="577.7" width="183.9" height="69.3" fill="#002060"/>
<rect x="403" y="576.2" width="187.6" height="71.1" fill="#ffffff" opacity="0.8"/>
<rect x="403.8" y="577" width="186" height="69.5" fill="#002060"/>
<rect x="592.4" y="576.2" width="188" height="71.4" fill="#ffffff" opacity="0.8"/>
<rect x="593.2" y="577" width="186.4" height="69.8" fill="#002060"/>
<rect x="782.1" y="576.4" width="237.4" height="71.4" fill="#ffffff" opacity="0.8"/>
<rect x="782.9" y="577.2" width="235.8" height="69.8" fill="#002060"/>
<text x="68.2" y="492.27" font-size="25.5" font-weight="bold" fill="#ffffff">50</text>
<text x="100.88" y="492.84" font-size="25.5" font-weight="bold" fill="#ffffff">万</text>
<text x="130.06" y="491.65" font-size="25.75" font-weight="bold" fill="#ffffff">㎡</text>
<text x="165.99" y="495.77" font-size="28.05" font-weight="bold" fill="#ffffff">+</text>
<text x="75.88" y="526.86" font-size="24.97" fill="#ffffff">工厂面积</text>
<text x="235.29" y="622.4" font-size="26" font-weight="bold" fill="#ffffff">8</text>
<text x="251.13" y="623.29" font-size="23.39" fill="#ffffff">个</text>
<text x="281.88" y="624.02" font-size="24.96" fill="#ffffff">制造基地</text>
<text x="436.71" y="622.39" font-size="26" font-weight="bold" fill="#ffffff">7</text>
<text x="452.38" y="623.29" font-size="23.39" fill="#ffffff">个</text>
<text x="481.39" y="624.09" font-size="25.27" fill="#ffffff">办事处</text>
<text x="612.89" y="622.28" font-size="26" font-weight="bold" fill="#ffffff">5</text>
<text x="627.87" y="623.39" font-size="23.66" fill="#ffffff">个</text>
<text x="659.15" y="624" font-size="24.94" fill="#ffffff">研发中心</text>
<text x="802.46" y="622.41" font-size="26" font-weight="bold" fill="#ffffff">1</text>
<text x="817.87" y="623.39" font-size="23.66" fill="#ffffff">个</text>
<text x="849.07" y="624.14" font-size="25.05" fill="#ffffff">国家级实验室</text>
<rect x="1035" y="12" width="150" height="41" fill="#ffffff" opacity="0.9"/>
<g transform="translate(1042.0,22.8) skewX(-10) translate(1.6,0)"><path d="M16.9,2 H5.6 Q2,2 2,5.4 V7.6 Q2,11 5.6,11 H16.9" fill="none" stroke="#1b8fd8" stroke-width="4"/><polygon points="18.6,0 35,0 35,3.6 26.2,9.1 35,9.1 35,13 18.2,13 18.2,9.4 27,3.9 18.6,3.9" fill="#1b8fd8"/><polygon points="35.8,0 52.6,0 52.6,3.9 46.8,3.9 46.8,13 41.8,13 41.8,3.9 35.8,3.9" fill="#1b8fd8"/></g>
<circle cx="1097.3" cy="19.6" r="2" fill="none" stroke="#7fb9e6" stroke-width="0.6"/>
<text x="1101.96" y="34.36" font-size="16" font-weight="bold" fill="#3b3838" letter-spacing="1.2">意华股份</text>
<text x="1057.99" y="49.35" font-size="11.57" font-weight="bold" fill="#2e96d4">股票代码</text>
<text x="1104.82" y="49.16" font-size="10.5" font-weight="bold" fill="#2e96d4">：</text>
<text x="1115.53" y="49.28" font-size="11.99" font-weight="bold" fill="#2e96d4">002897</text>
</svg>
</body></html>
